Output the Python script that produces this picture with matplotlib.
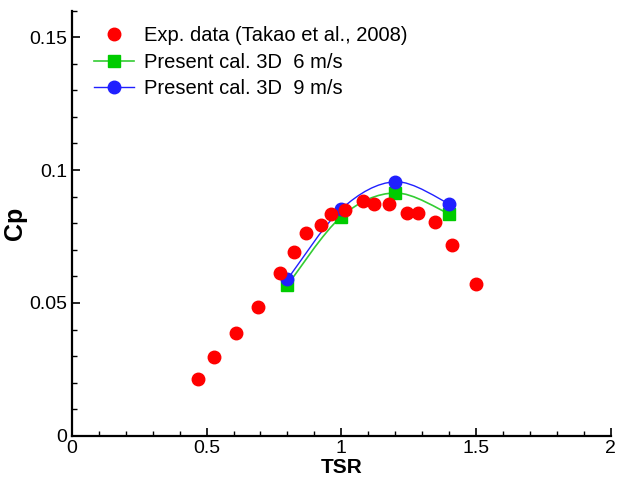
import numpy as np
import matplotlib.pyplot as plt
from matplotlib.path import Path
from matplotlib.patches import PathPatch
from matplotlib.lines import Line2D
from matplotlib.ticker import MultipleLocator

plt.rcParams['font.family'] = ['Liberation Sans', 'DejaVu Sans']

# experimental data (Takao et al., 2008)
exp_tsr = [0.468, 0.529, 0.609, 0.691, 0.773, 0.823, 0.869, 0.923, 0.960, 1.013,
           1.082, 1.120, 1.178, 1.245, 1.285, 1.346, 1.409, 1.498]
exp_cp = [0.0214, 0.0296, 0.0387, 0.0483, 0.0613, 0.0690, 0.0763, 0.0792, 0.0833, 0.0850,
          0.0884, 0.0873, 0.0874, 0.0840, 0.0837, 0.0804, 0.0719, 0.0570]

# present calculation 3D
cal_tsr = [0.8, 1.0, 1.2, 1.4]
cal_cp_6 = [0.0567, 0.0825, 0.0914, 0.0835]
cal_cp_9 = [0.0589, 0.0853, 0.0956, 0.0873]

labels = ["Exp. data (Takao et al., 2008)",
          "Present cal. 3D  6 m/s",
          "Present cal. 3D  9 m/s"]


def smooth_path(xs, ys):
    # Catmull-Rom segments drawn as cubic bezier curves
    pts = np.column_stack([xs, ys])
    ext = np.vstack([pts[0], pts, pts[-1]])
    verts = [pts[0]]
    codes = [Path.MOVETO]
    for i in range(1, len(ext) - 2):
        p0, p1, p2, p3 = ext[i - 1], ext[i], ext[i + 1], ext[i + 2]
        verts += [p1 + (p2 - p0) / 6, p2 - (p3 - p1) / 6, p2]
        codes += [Path.CURVE4] * 3
    return Path(verts, codes)


fig = plt.figure(figsize=(6.24, 4.79), dpi=100)
ax = fig.add_axes([0.115, 0.09, 0.864, 0.888])

green_line = '#33cc33'
green_mark = '#00cc00'
blue = '#2020ff'

ax.add_patch(PathPatch(smooth_path(cal_tsr, cal_cp_6), fill=False, edgecolor=green_line, lw=1.2, zorder=2))
ax.plot(cal_tsr, cal_cp_6, ls='none', marker='s', ms=8, color=green_mark, zorder=3)
ax.add_patch(PathPatch(smooth_path(cal_tsr, cal_cp_9), fill=False, edgecolor=blue, lw=1.0, zorder=2))
ax.plot(cal_tsr, cal_cp_9, ls='none', marker='o', ms=9, color=blue, zorder=4)
ax.plot(exp_tsr, exp_cp, ls='none', marker='o', ms=9, color='#ff0000', zorder=5)

ax.set_xlim(0, 2)
ax.set_ylim(0, 0.16)
ax.xaxis.set_minor_locator(MultipleLocator(0.1))
ax.yaxis.set_minor_locator(MultipleLocator(0.01))
ax.set_xticks([0, 0.5, 1, 1.5, 2])
ax.set_xticklabels(['0', '0.5', '1', '1.5', '2'])
ax.set_yticks([0, 0.05, 0.1, 0.15])
ax.set_yticklabels(['0', '0.05', '0.1', '0.15'])

for s in ['top', 'right']:
    ax.spines[s].set_visible(False)
for s in ['left', 'bottom']:
    ax.spines[s].set_linewidth(1.6)

ax.tick_params(which='major', direction='in', length=6, width=1.2, labelsize=14, pad=3)
ax.tick_params(which='minor', direction='in', length=3.5, width=1.0)

ax.set_xlabel('TSR', fontsize=15, fontweight='bold', labelpad=1)
ax.set_ylabel('Cp', fontsize=18, fontweight='bold', labelpad=2)

handles = [
    Line2D([], [], ls='none', marker='o', ms=9, color='#ff0000'),
    Line2D([], [], color=green_line, lw=1.2, marker='s', ms=8, mfc=green_mark, mec=green_mark),
    Line2D([], [], color=blue, lw=1.0, marker='o', ms=9, mfc=blue, mec=blue),
]
ax.legend(handles, labels, loc='upper left', bbox_to_anchor=(0.015, 0.997),
          frameon=False, fontsize=14.5, handlelength=2.0, handletextpad=0.5,
          labelspacing=0.38, borderaxespad=0.3)

fig.savefig('out.png', dpi=100)
